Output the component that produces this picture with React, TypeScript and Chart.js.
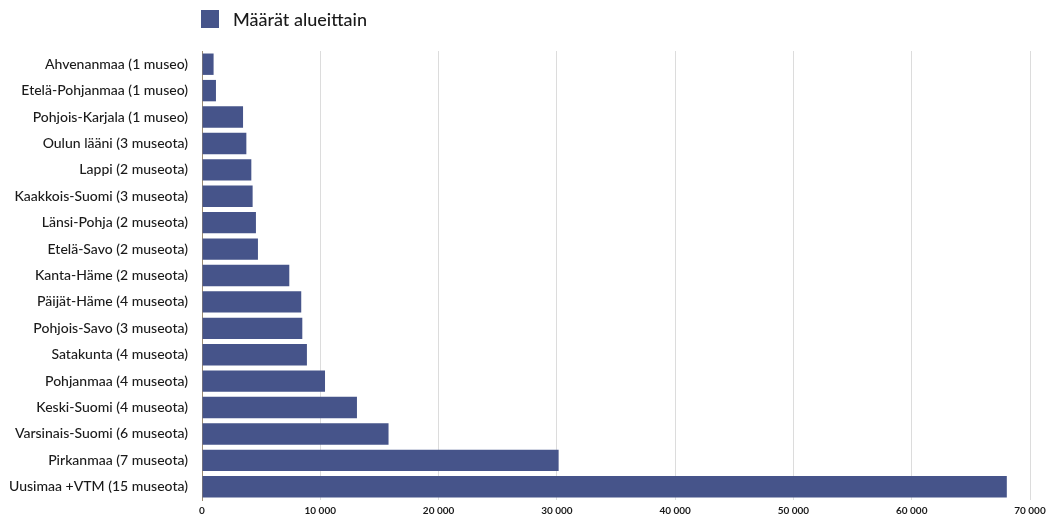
import React, { useEffect, useRef } from "react";
import { Chart, registerables } from "chart.js";

Chart.register(...registerables);

const categories = [
  "Ahvenanmaa (1 museo)",
  "Etelä-Pohjanmaa (1 museo)",
  "Pohjois-Karjala (1 museo)",
  "Oulun lääni (3 museota)",
  "Lappi (2 museota)",
  "Kaakkois-Suomi (3 museota)",
  "Länsi-Pohja (2 museota)",
  "Etelä-Savo (2 museota)",
  "Kanta-Häme (2 museota)",
  "Päijät-Häme (4 museota)",
  "Pohjois-Savo (3 museota)",
  "Satakunta (4 museota)",
  "Pohjanmaa (4 museota)",
  "Keski-Suomi (4 museota)",
  "Varsinais-Suomi (6 museota)",
  "Pirkanmaa (7 museota)",
  "Uusimaa +VTM (15 museota)",
];

const values = [
  980, 1180, 3470, 3750, 4170, 4280, 4560, 4730, 7380, 8390, 8480, 8870,
  10400, 13100, 15770, 30150, 68040,
];

const seriesLabel = "Määrät alueittain";
const xMax = 70000;
const xStep = 10000;

const BAR_COLOR = "#46548a";
const FONT = "Lato, 'Open Sans', sans-serif";

const legendPlugin = {
  id: "customLegend",
  afterDraw(chart: any) {
    const ctx = chart.ctx;
    ctx.save();
    ctx.fillStyle = BAR_COLOR;
    ctx.fillRect(201, 10, 18, 18);
    ctx.fillStyle = "#1a1a1a";
    ctx.font = `500 18px ${FONT}`;
    ctx.textBaseline = "middle";
    ctx.textAlign = "left";
    ctx.fillText(chart.data.datasets[0].label, 233, 20);
    ctx.restore();
  },
};

export default function App() {
  const ref = useRef<HTMLCanvasElement | null>(null);
  useEffect(() => {
    if (!ref.current) return;
    const chart = new Chart(ref.current, {
      type: "bar",
      data: {
        labels: categories,
        datasets: [
          {
            label: seriesLabel,
            data: values,
            backgroundColor: BAR_COLOR,
            borderWidth: 0,
            categoryPercentage: 1,
            barPercentage: 0.81,
          },
        ],
      },
      options: {
        indexAxis: "y",
        animation: false,
        responsive: false,
        maintainAspectRatio: false,
        layout: { padding: { top: 51, right: 16, left: 0, bottom: 0 } },
        plugins: {
          legend: { display: false },
          tooltip: { enabled: false },
        },
        scales: {
          x: {
            min: 0,
            max: xMax,
            ticks: {
              stepSize: xStep,
              padding: 5,
              color: "#1a1a1a",
              font: { family: FONT, size: 10, weight: "bold" },
              callback: (v: any) =>
                Number(v)
                  .toString()
                  .replace(/\B(?=(\d{3})+(?!\d))/g, " "),
            },
            grid: { color: "#dcdcdc", lineWidth: 1, drawTicks: false },
            border: { display: false },
            afterFit: (s: any) => {
              s.height = 19;
              s.paddingRight = 0;
              s.paddingLeft = 0;
            },
          },
          y: {
            ticks: {
              padding: 14,
              color: "#1a1a1a",
              font: { family: FONT, size: 14, weight: "500" },
              autoSkip: false,
            },
            grid: { display: false, drawTicks: false },
            border: { display: true, color: "#9a8a72", width: 1 },
            afterFit: (s: any) => {
              s.width = 202;
              s.paddingTop = 0;
              s.paddingBottom = 0;
            },
          },
        },
      },
      plugins: [legendPlugin],
    });
    return () => chart.destroy();
  }, []);
  return (
    <div style={{ position: "absolute", left: 0, top: 0, width: 1046, height: 519, background: "#fff" }}>
      <canvas ref={ref} width={1046} height={519} style={{ display: "block" }} />
    </div>
  );
}
